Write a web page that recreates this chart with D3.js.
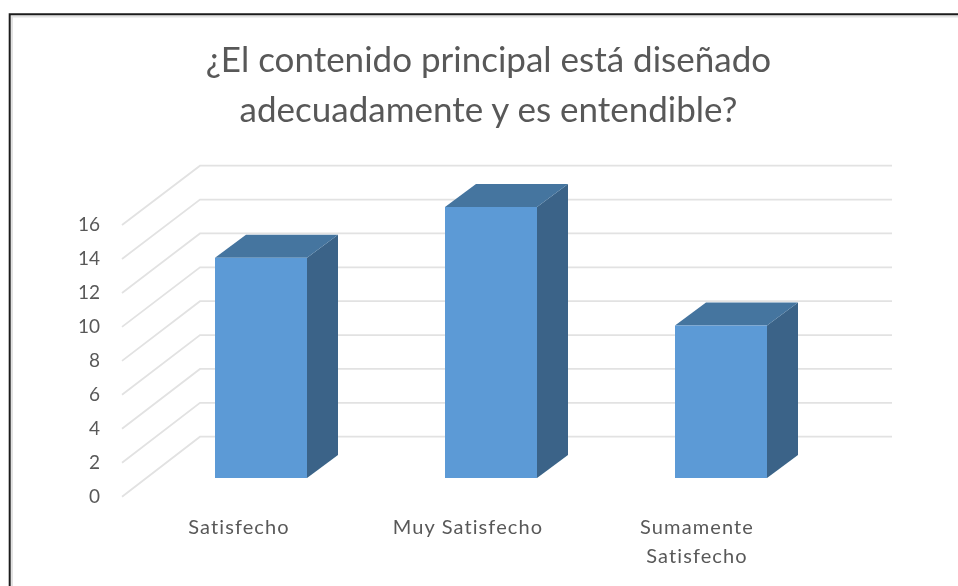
<!DOCTYPE html>
<html><head><meta charset="utf-8">
<script src="https://cdn.jsdelivr.net/npm/d3@7/dist/d3.min.js"></script>
<style>html,body{margin:0;padding:0;background:#fff}svg{display:block}</style>
</head><body><svg id="c" width="958" height="586"></svg>
<script>
const titleLines = ["¿El contenido principal está diseñado", "adecuadamente y es entendible?"];
const categories = ["Satisfecho", "Muy Satisfecho", "Sumamente Satisfecho"];
const categoryLines = [["Satisfecho"], ["Muy Satisfecho"], ["Sumamente", "Satisfecho"]];
const values = [13, 16, 9];
const ticks = [0, 2, 4, 6, 8, 10, 12, 14, 16];

const font = "Lato,'Open Sans',sans-serif";
const svg = d3.select("#c");
const defs = svg.append("defs");
defs.append("filter").attr("id","soft").append("feGaussianBlur").attr("stdDeviation",0.45);

// frame: top and left edges only, with a light inner shadow
svg.append("path").attr("d","M12,590V16.5H958").attr("fill","none").attr("stroke","#e2e2e2").attr("stroke-width",2);
svg.append("path").attr("d","M9.7,590V14.2H958").attr("fill","none").attr("stroke","#1c1c1c").attr("stroke-width",2);

const chart = svg.append("g").attr("filter","url(#soft)");

chart.append("g").selectAll("text").data(titleLines).join("text")
  .attr("x",488.5).attr("y",(d,i)=>71.5+i*50).attr("text-anchor","middle")
  .attr("font-family",font).attr("font-size",35).attr("fill","#595959").text(d=>d);

const wall = d3.scaleLinear().domain([0,16]).range([436.7,165.7]);
const front = d3.scaleLinear().domain([0,16]).range([496.7,225]);
const bar = d3.scaleLinear().domain([0,16]).range([478,207]);
const centers = d3.scalePoint().domain(categories).range([261,721]);
const labelX = d3.scalePoint().domain(categories).range([239,697]);
const barW = 92, dx = 31, dy = 23;
const wallLeft = 200, wallRight = 892, floorLeft = 122;

const grid = chart.append("g").attr("stroke","#e2e2e2").attr("stroke-width",1.8).attr("fill","none");
grid.selectAll("path").data(ticks).join("path")
  .attr("d",t=>d3.line()([[floorLeft,front(t)],[wallLeft,wall(t)],[wallRight,wall(t)]]));

chart.append("g").selectAll("text").data(ticks).join("text")
  .attr("x",100).attr("y",t=>front(t)-0.2).attr("dy","0.35em").attr("text-anchor","end")
  .attr("font-family",font).attr("font-size",19).attr("fill","#595959").text(t=>t);

const bars = chart.append("g").selectAll("g").data(categories).join("g");
const L = c=>centers(c)-barW/2, R = c=>centers(c)+barW/2;
const v = c=>values[categories.indexOf(c)];
bars.append("path").attr("fill","#3a6488").attr("d",c=>d3.line()([
  [R(c),bar(0)],[R(c)+dx,bar(0)-dy],[R(c)+dx,bar(v(c))-dy],[R(c),bar(v(c))]])+"Z");
bars.append("path").attr("fill","#44749f").attr("d",c=>d3.line()([
  [L(c),bar(v(c))],[L(c)+dx,bar(v(c))-dy],[R(c)+dx,bar(v(c))-dy],[R(c),bar(v(c))]])+"Z");
bars.append("rect").attr("fill","#5c9ad6").attr("x",L).attr("width",barW)
  .attr("y",c=>bar(v(c))).attr("height",c=>bar(0)-bar(v(c)));

categories.forEach((c,i)=>{
  chart.append("g").selectAll("text").data(categoryLines[i]).join("text")
    .attr("x",labelX(c)).attr("y",(d,j)=>534+j*29).attr("text-anchor","middle")
    .attr("font-family",font).attr("font-size",20).attr("letter-spacing",1.1)
    .attr("fill","#595959").text(d=>d);
});
</script></body></html>
